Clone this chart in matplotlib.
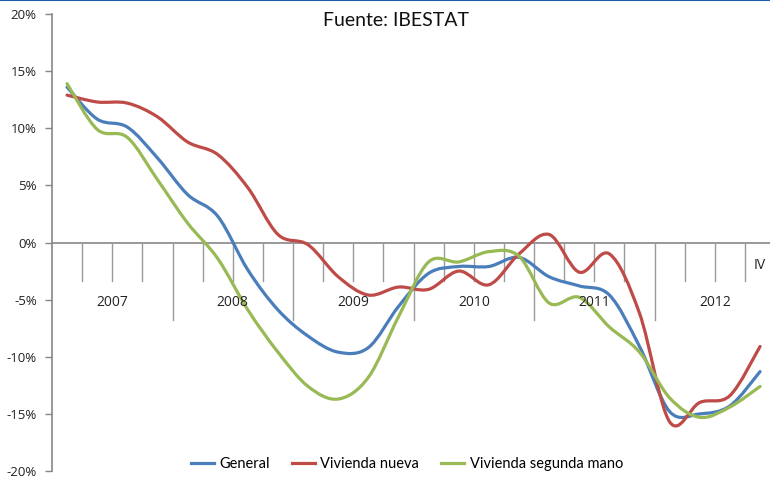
import matplotlib
matplotlib.use("Agg")
import matplotlib.pyplot as plt
import numpy as np
from matplotlib.path import Path
from matplotlib.patches import PathPatch
from matplotlib.lines import Line2D

# quarterly variation 2007 Q1 .. 2012 Q4 (%)
years = ["2007", "2008", "2009", "2010", "2011", "2012"]
general = [13.6, 10.8, 10.1, 7.4, 4.2, 2.3, -2.4, -5.9, -8.2, -9.6, -9.2, -5.6,
           -2.7, -2.1, -2.1, -1.3, -3.0, -3.8, -4.6, -9.1, -14.8, -15.0, -14.3, -11.3]
nueva = [12.9, 12.3, 12.2, 11.0, 8.8, 7.7, 4.8, 0.7, -0.2, -3.0, -4.6, -3.9,
         -4.1, -2.5, -3.7, -1.0, 0.7, -2.6, -1.0, -6.2, -15.7, -14.0, -13.4, -9.1]
segunda = [13.9, 9.9, 9.2, 5.5, 1.7, -1.4, -5.9, -9.6, -12.6, -13.7, -11.8, -6.5,
           -1.7, -1.7, -0.8, -1.2, -5.3, -4.8, -7.4, -9.6, -13.6, -15.3, -14.4, -12.6]
series_names = ["General", "Vivienda nueva", "Vivienda segunda mano"]
colors = ["#4A7EBB", "#BE4B48", "#98B954"]


def smooth_path(xs, ys):
    # catmull-rom through the points, as cubic bezier segments (like excel "smoothed line")
    p = np.column_stack([xs, ys]).astype(float)
    pts = np.vstack([p[0], p, p[-1]])
    verts = [p[0]]
    codes = [Path.MOVETO]
    for i in range(1, len(pts) - 2):
        c1 = pts[i] + (pts[i + 1] - pts[i - 1]) / 6
        c2 = pts[i + 1] - (pts[i + 2] - pts[i]) / 6
        verts += [c1, c2, pts[i + 1]]
        codes += [Path.CURVE4] * 3
    return Path(verts, codes)


fig = plt.figure(figsize=(7.7, 4.78), dpi=100)
ax = fig.add_axes([52 / 770, 7 / 478, 718 / 770, 457 / 478])

x = np.arange(len(general))
for vals, c in zip([general, nueva, segunda], colors):
    ax.add_patch(PathPatch(smooth_path(x, vals), facecolor="none", edgecolor=c,
                           lw=2.3, capstyle="round", joinstyle="round", zorder=3))

ax.set_xlim(-0.5, -0.5 + 718 / 30.13)
ax.set_ylim(-20, 20)

# y axis
ax.set_yticks(np.arange(-20, 21, 5))
ax.set_yticklabels([f"{v}%" for v in range(-20, 21, 5)], fontsize=9.5, color="#222222",
                   family="Open Sans")
ax.tick_params(axis="y", length=5, width=1, color="#868686", pad=6)
ax.get_yticklabels()[0].set_y(-19.7)
ax.set_xticks([])
for s in ["top", "right", "bottom"]:
    ax.spines[s].set_visible(False)
ax.spines["left"].set_color("#868686")
ax.spines["left"].set_linewidth(1.2)

# category axis at 0
ax.axhline(0, color="#868686", lw=1.2, zorder=1)
for k in range(1, 25):
    low = -6.75 if k % 4 == 0 else -3.4
    ax.plot([k - 0.5, k - 0.5], [0, low], color="#9A9A9A", lw=1, zorder=1, clip_on=True)
for j, yr in enumerate(years):
    ax.text(4 * j + 1.5, -5.25, yr, ha="center", va="center", fontsize=10,
            color="#222222", family="Open Sans")
ax.text(23, -2.0, "IV", ha="center", va="center", fontsize=10, color="#222222",
        family="Open Sans")

fig.text(396 / 770, 1 - 20 / 478, "Fuente: IBESTAT", ha="center", va="center",
         fontsize=14, color="#111111", family="Lato")

handles = [Line2D([], [], color=c, lw=2.3) for c in colors]
fig.legend(handles, series_names, loc="center", bbox_to_anchor=(407 / 770, 14 / 478),
           ncol=3, frameon=False, handlelength=1.55, handletextpad=0.4, columnspacing=1.5,
           prop={"family": "Lato", "size": 10.5})

# thin blue border at the top
fig.add_artist(Line2D([0, 1], [0.999, 0.999], color="#1F5CA8", lw=1.5))

fig.savefig("out.png", dpi=100)
